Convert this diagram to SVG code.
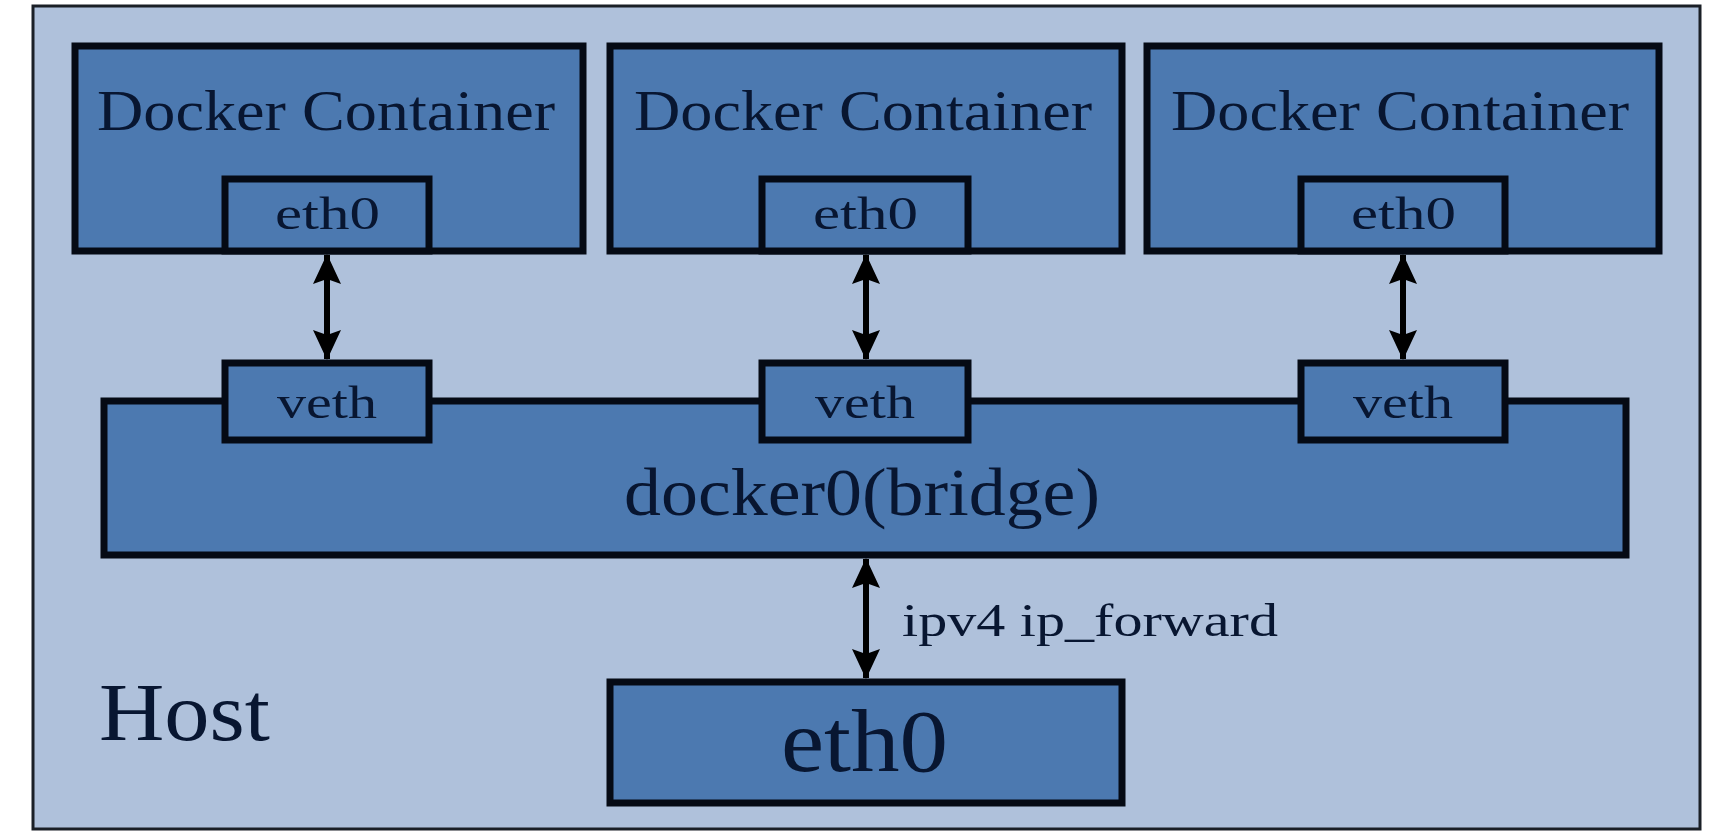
<svg xmlns="http://www.w3.org/2000/svg" width="1725" height="837" viewBox="0 0 1725 837">
<style>
.box{fill:#4C79B0;stroke:#050A14;stroke-width:7}
.host{fill:#AFC1DB;stroke:#1A1F26;stroke-width:3}
.t{font-family:"Liberation Serif","Times New Roman",serif;fill:#081631}
.con{stroke:#000;stroke-width:6;fill:none}
</style>
<defs>
<marker id="ah" viewBox="0 0 30 30" refX="29" refY="15" markerWidth="30" markerHeight="30" markerUnits="userSpaceOnUse" orient="auto-start-reverse">
<path d="M0,1 L30,15 L0,29 L5,15 z" fill="#000"/>
</marker>
</defs>
<rect width="1725" height="837" fill="#fff"/>
<g id="host">
<rect class="host" x="33" y="6" width="1667" height="823"/>
<text class="t" x="99" y="740" font-size="82" textLength="171" lengthAdjust="spacingAndGlyphs">Host</text>
</g>
<g id="container1">
<rect class="box" x="75" y="46" width="508" height="205"/>
<text class="t" x="97" y="130" font-size="57" textLength="458" lengthAdjust="spacingAndGlyphs">Docker Container</text>
</g>
<g id="eth0-c1">
<rect class="box" x="225" y="179" width="204" height="72"/>
<text class="t" x="275" y="229" font-size="47" textLength="105" lengthAdjust="spacingAndGlyphs">eth0</text>
</g>
<g id="container2">
<rect class="box" x="610" y="46" width="512" height="205"/>
<text class="t" x="634" y="130" font-size="57" textLength="458" lengthAdjust="spacingAndGlyphs">Docker Container</text>
</g>
<g id="eth0-c2">
<rect class="box" x="762" y="179" width="206" height="72"/>
<text class="t" x="813" y="229" font-size="47" textLength="105" lengthAdjust="spacingAndGlyphs">eth0</text>
</g>
<g id="container3">
<rect class="box" x="1147" y="46" width="512" height="205"/>
<text class="t" x="1171" y="130" font-size="57" textLength="458" lengthAdjust="spacingAndGlyphs">Docker Container</text>
</g>
<g id="eth0-c3">
<rect class="box" x="1301" y="179" width="204" height="72"/>
<text class="t" x="1351" y="229" font-size="47" textLength="105" lengthAdjust="spacingAndGlyphs">eth0</text>
</g>
<g id="bridge">
<rect class="box" x="104" y="401" width="1522" height="154"/>
<text class="t" x="624" y="515" font-size="68" textLength="476" lengthAdjust="spacingAndGlyphs">docker0(bridge)</text>
</g>
<g id="veth1">
<rect class="box" x="225" y="363" width="204" height="77"/>
<text class="t" x="277" y="418" font-size="47" textLength="100" lengthAdjust="spacingAndGlyphs">veth</text>
</g>
<g id="veth2">
<rect class="box" x="762" y="363" width="206" height="77"/>
<text class="t" x="815" y="418" font-size="47" textLength="100" lengthAdjust="spacingAndGlyphs">veth</text>
</g>
<g id="veth3">
<rect class="box" x="1301" y="363" width="204" height="77"/>
<text class="t" x="1353" y="418" font-size="47" textLength="100" lengthAdjust="spacingAndGlyphs">veth</text>
</g>
<g id="host-eth0">
<rect class="box" x="610" y="682" width="512" height="121"/>
<text class="t" x="781" y="771" font-size="88" textLength="167" lengthAdjust="spacingAndGlyphs">eth0</text>
</g>
<g id="connectors">
<line class="con" x1="327" y1="255" x2="327" y2="359" marker-start="url(#ah)" marker-end="url(#ah)"/>
<line class="con" x1="866" y1="255" x2="866" y2="359" marker-start="url(#ah)" marker-end="url(#ah)"/>
<line class="con" x1="1403" y1="255" x2="1403" y2="359" marker-start="url(#ah)" marker-end="url(#ah)"/>
<line class="con" x1="866" y1="559" x2="866" y2="678" marker-start="url(#ah)" marker-end="url(#ah)"/>
<text class="t" x="902" y="636" font-size="47" textLength="376" lengthAdjust="spacingAndGlyphs">ipv4 ip_forward</text>
</g>
</svg>
